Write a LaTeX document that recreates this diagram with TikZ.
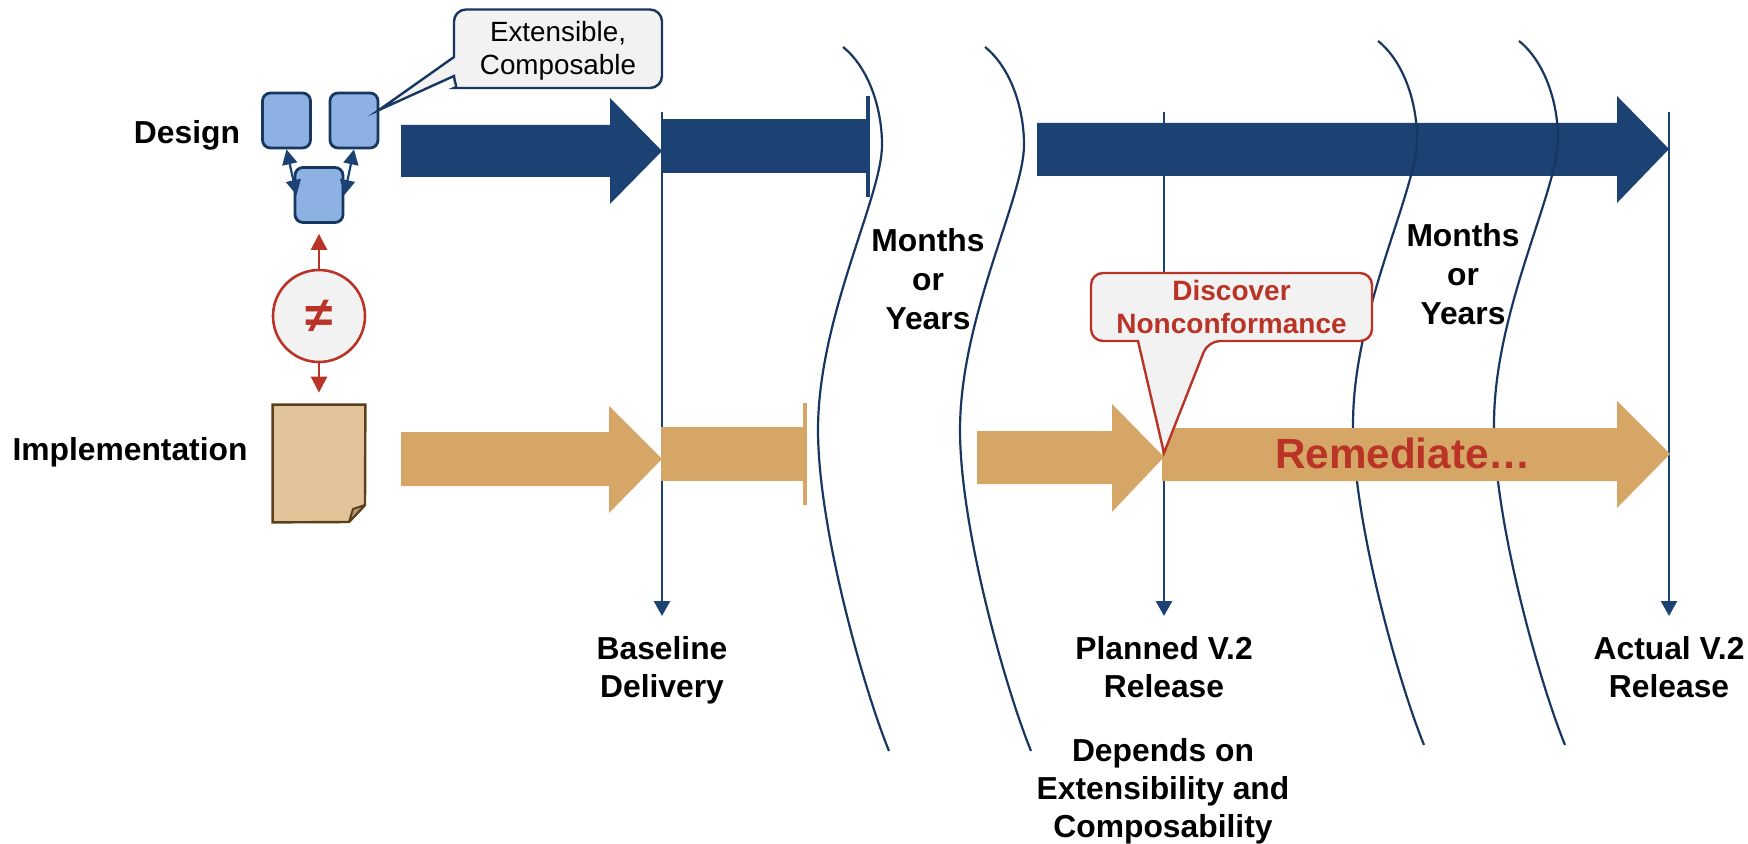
\documentclass[tikz,border=0pt]{standalone}
\usepackage{fontspec}
\setmainfont{Liberation Sans}
\usetikzlibrary{arrows.meta}

\definecolor{navy}{HTML}{1C4273}
\definecolor{darknavy}{HTML}{173660}
\definecolor{tan}{HTML}{D6A666}
\definecolor{paper}{HTML}{E3C39A}
\definecolor{paperline}{HTML}{5A3F1B}
\definecolor{boxblue}{HTML}{8DB1E3}
\definecolor{alarm}{HTML}{B93426}
\definecolor{bubble}{HTML}{F2F2F2}

\tikzset{
  rowlabel/.style={font=\fontsize{15.9}{18.8}\selectfont\bfseries, align=center, inner sep=0},
  gaplabel/.style={font=\fontsize{15.9}{19.5}\selectfont\bfseries, align=center, inner sep=0},
  timelabel/.style={rowlabel, anchor=north, inner xsep=0, inner ysep=10pt},
  block/.style={draw=darknavy, fill=boxblue, line width=1.4pt, rounded corners=4pt, minimum width=24pt, minimum height=27.5pt, inner sep=0},
  link/.style={{Triangle[width=7.5pt,length=7.5pt]}-{Triangle[width=7.5pt,length=7.5pt]}, navy, line width=1.1pt},
  clash/.style={-{Triangle[width=8pt,length=8pt]}, alarm, line width=1.3pt},
  timeline/.style={-{Triangle[width=8pt,length=7.5pt]}, navy, line width=1.3pt},
  wave/.style={darknavy, line width=1.1pt},
  navyshape/.style={fill=navy},
  tanshape/.style={fill=tan},
  navybar/.style={navy, line width=1.6pt},
  tanbar/.style={tan, line width=1.6pt},
  note/.style={draw=darknavy, fill=bubble, line width=1.2pt, miter limit=20},
  warn/.style={draw=alarm, fill=bubble, line width=1.2pt, miter limit=20},
}

\begin{document}
\begin{tikzpicture}[x=.5pt, y=-.5pt]
  \useasboundingbox (0,0) rectangle (1748,844);

  % design row
  \fill[navyshape] (401,125) -- (610,125) -- (610,98) -- (662,151) -- (610,204) -- (610,177) -- (401,177) -- cycle;
  \fill[navyshape] (662,119) rectangle (868,173);
  \draw[navybar] (868,96) -- (868,197);
  \fill[navyshape] (1037,123) -- (1617,123) -- (1617,96) -- (1669,149) -- (1617,203) -- (1617,176) -- (1037,176) -- cycle;

  % time gaps
  \foreach \wx/\wy in {843/47, 985/47, 1378/41, 1519/41} {
    \draw[wave, shift={(\wx,\wy)}] (0,0) .. controls (25,20) and (39,60) .. (39,98)
      .. controls (39,150) and (-25,270) .. (-25,383)
      .. controls (-25,480) and (20,640) .. (46,704);
  }

  % release labels and lines
  \node[timelabel] (baseline) at (662,616) {Baseline\\Delivery};
  \node[timelabel] (planned) at (1164,616) {Planned V.2\\Release};
  \node[timelabel] (actual) at (1669,616) {Actual V.2\\Release};
  \node[rowlabel, font=\fontsize{15.9}{19}\selectfont\bfseries] (depends) at (1163,791) {Depends on\\Extensibility and\\Composability};

  \coordinate (baselinetop) at (662,112);
  \coordinate (plannedtop) at (1164,112);
  \coordinate (actualtop) at (1669,112);
  \draw[timeline] (baselinetop) -- (baseline.north);
  \draw[timeline] (plannedtop) -- (planned.north);
  \draw[timeline] (actualtop) -- (actual.north);

  % implementation row
  \fill[tanshape] (401,432) -- (609,432) -- (609,406) -- (662,459) -- (609,513) -- (609,486) -- (401,486) -- cycle;
  \fill[tanshape] (661,427) rectangle (805,481);
  \draw[tanbar] (805,403) -- (805,505);
  \fill[tanshape] (977,431) -- (1112,431) -- (1112,404) -- (1164,457) -- (1112,512) -- (1112,484) -- (977,484) -- cycle;
  \fill[tanshape] (1162,428) -- (1617,428) -- (1617,401) -- (1670,454) -- (1617,508) -- (1617,481) -- (1162,481) -- cycle;
  \node[font=\fontsize{21.1}{24}\selectfont\bfseries, text=alarm, inner sep=0] (remediate) at (1403,453) {Remediate…};

  % left column
  \node[rowlabel] (design) at (187,135) {Design};
  \node[rowlabel] (implementation) at (130,452) {Implementation};

  \node[block] (blockleft) at (286.5,120.5) {};
  \node[block] (blockright) at (354,120.5) {};
  \node[block] (blocklow) at (319,195) {};
  \draw[link] (blockleft.south) -- ([xshift=1.5pt]blocklow.west);
  \draw[link] (blockright.south) -- (blocklow.east);

  \node[circle, draw=alarm, fill=bubble, line width=1.3pt, minimum size=46pt, inner sep=0, text=alarm, font=\fontsize{25}{25}\selectfont\bfseries] (differs) at (319,316) {≠};
  \draw[clash, shorten >=5pt] (differs.north) -- (blocklow.south);

  \node[minimum width=46pt, minimum height=58.5pt, inner sep=0] (page) at (319,463.5) {};
  \draw[clash, shorten >=6pt] (differs.south) -- (page.north);
  \draw[draw=paperline, fill=paper, line width=1.2pt] (page.north west) -- (page.north east) -- (365,505) -- (349,522) -- (page.south west) -- cycle;
  \draw[draw=paperline, fill=paper!70!paperline, line width=1pt, line join=bevel] (349,522) -- (353,509) -- (365,505) -- cycle;

  % callouts
  \draw[note] (558,9.5) [rounded corners=6pt] -- (662,9.5) -- (662,88) -- (466,88) [sharp corners] .. controls (459,88) and (454,83) .. (454,76) -- (379,110) -- (454,57) [rounded corners=6pt] -- (454,9.5) -- cycle;
  \node[font=\fontsize{13.9}{16.2}\selectfont, align=center, inner sep=0] (extensible) at (558,51) {Extensible,\\Composable};

  \draw[warn] (1231,273) [rounded corners=6pt] -- (1372,273) -- (1372,341) -- (1208,341) [sharp corners] -- (1164,453) -- (1138,341) [rounded corners=6pt] -- (1091,341) -- (1091,273) -- cycle;
  \node[font=\fontsize{14}{16.5}\selectfont\bfseries, text=alarm, align=center, inner sep=0] (discover) at (1231.5,306.5) {Discover\\Nonconformance};

  % gap labels
  \node[gaplabel] (gapone) at (928,279) {Months\\or\\Years};
  \node[gaplabel] (gaptwo) at (1463,274) {Months\\or\\Years};

\end{tikzpicture}
\end{document}
